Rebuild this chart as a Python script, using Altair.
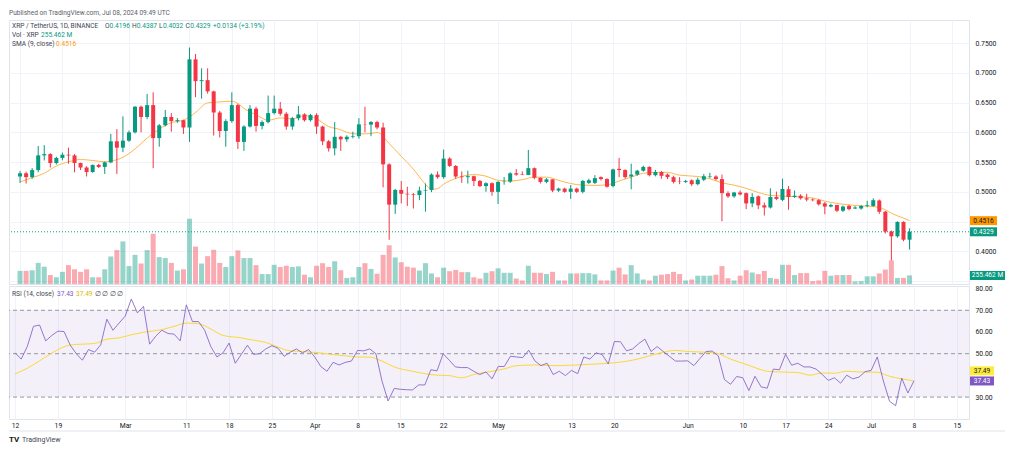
import altair as alt
import pandas as pd

# ---------------- data (XRP/USDT 1D, Feb 12 - Jul 8 2024) ----------------
start_date = "2024-02-12"

opens = [
    0.5258, 0.5312, 0.5247, 0.5366, 0.5613, 0.5634, 0.5484, 0.5570, 0.5624, 0.5612,
    0.5484, 0.5409, 0.5333, 0.5452, 0.5419, 0.5495, 0.5849, 0.5742, 0.5860, 0.6000,
    0.6430, 0.6258, 0.6457, 0.5903, 0.6118, 0.6258, 0.6188, 0.6204, 0.6081, 0.7226,
    0.6860, 0.6876, 0.6688, 0.6333, 0.6022, 0.6188, 0.6457, 0.5839, 0.6097, 0.6398,
    0.6108, 0.6172, 0.6323, 0.6398, 0.6312, 0.6097, 0.6237, 0.6301, 0.6204, 0.6290,
    0.6097, 0.5849, 0.5731, 0.5925, 0.5882, 0.5925, 0.5935, 0.6134, 0.6130, 0.6172,
    0.6081, 0.5462, 0.4785, 0.5032, 0.4968, 0.4957, 0.4946, 0.5022, 0.5032, 0.5290,
    0.5247, 0.5559, 0.5435, 0.5258, 0.5247, 0.5263, 0.5183, 0.5097, 0.5145, 0.5000,
    0.5167, 0.5172, 0.5312, 0.5290, 0.5284, 0.5398, 0.5237, 0.5167, 0.5210, 0.5022,
    0.5054, 0.5000, 0.5054, 0.5000, 0.5151, 0.5151, 0.5247, 0.5215, 0.5097, 0.5387,
    0.5366, 0.5258, 0.5290, 0.5355, 0.5419, 0.5280, 0.5333, 0.5290, 0.5247, 0.5183,
    0.5167, 0.5194, 0.5129, 0.5204, 0.5250, 0.5258, 0.5215, 0.4978, 0.4925, 0.4989,
    0.4978, 0.4806, 0.4925, 0.4774, 0.4737, 0.4914, 0.4865, 0.5043, 0.4914, 0.4935,
    0.4892, 0.4871, 0.4860, 0.4806, 0.4753, 0.4780, 0.4683, 0.4763, 0.4720, 0.4720,
    0.4763, 0.4763, 0.4855, 0.4667, 0.4333, 0.4253, 0.4495, 0.4196,
]
highs = [
    0.5350, 0.5340, 0.5400, 0.5770, 0.5785, 0.5650, 0.5590, 0.5660, 0.5742, 0.5634,
    0.5490, 0.5430, 0.5460, 0.5470, 0.5510, 0.5973, 0.6054, 0.6269, 0.6030, 0.6441,
    0.6450, 0.6645, 0.6672, 0.6140, 0.6376, 0.6323, 0.6240, 0.6210, 0.7425, 0.7317,
    0.7075, 0.7075, 0.6700, 0.6360, 0.6220, 0.6672, 0.6480, 0.6120, 0.6457, 0.6430,
    0.6200, 0.6618, 0.6618, 0.6511, 0.6340, 0.6260, 0.6441, 0.6320, 0.6310, 0.6320,
    0.6110, 0.5870, 0.6172, 0.5940, 0.5950, 0.6011, 0.6237, 0.6430, 0.6190, 0.6195,
    0.6161, 0.5480, 0.5050, 0.5183, 0.5086, 0.4980, 0.5086, 0.5140, 0.5310, 0.5344,
    0.5710, 0.5581, 0.5450, 0.5344, 0.5355, 0.5270, 0.5200, 0.5160, 0.5160, 0.5180,
    0.5247, 0.5330, 0.5382, 0.5344, 0.5704, 0.5410, 0.5240, 0.5230, 0.5210, 0.5070,
    0.5070, 0.5113, 0.5070, 0.5200, 0.5220, 0.5280, 0.5260, 0.5230, 0.5390, 0.5570,
    0.5380, 0.5473, 0.5370, 0.5440, 0.5430, 0.5370, 0.5350, 0.5310, 0.5270, 0.5247,
    0.5200, 0.5210, 0.5240, 0.5301, 0.5320, 0.5280, 0.5290, 0.5010, 0.5000, 0.5022,
    0.4990, 0.4978, 0.4940, 0.4820, 0.5059, 0.5005, 0.5220, 0.5097, 0.5022, 0.4960,
    0.4968, 0.4890, 0.4880, 0.4830, 0.4800, 0.4780, 0.4770, 0.4785, 0.4760, 0.4780,
    0.4850, 0.4892, 0.4870, 0.4680, 0.4350, 0.4505, 0.4505, 0.4387,
]
lows = [
    0.5150, 0.5140, 0.5220, 0.5330, 0.5527, 0.5409, 0.5460, 0.5530, 0.5473, 0.5328,
    0.5366, 0.5258, 0.5320, 0.5400, 0.5301, 0.5480, 0.5301, 0.5667, 0.5840, 0.5980,
    0.6000, 0.6220, 0.5398, 0.5758, 0.6100, 0.6011, 0.6160, 0.5973, 0.5839, 0.6591,
    0.6565, 0.6650, 0.5946, 0.5914, 0.5758, 0.6160, 0.5720, 0.5688, 0.6080, 0.6011,
    0.6050, 0.6150, 0.6300, 0.6280, 0.6043, 0.6043, 0.6200, 0.6180, 0.6180, 0.5973,
    0.5785, 0.5677, 0.5613, 0.5688, 0.5840, 0.5900, 0.5892, 0.6000, 0.5935, 0.6050,
    0.5075, 0.4194, 0.4629, 0.4806, 0.4763, 0.4720, 0.4860, 0.4667, 0.4995, 0.5220,
    0.5220, 0.5420, 0.5220, 0.5151, 0.5140, 0.5097, 0.5080, 0.5000, 0.4935, 0.4796,
    0.5120, 0.5150, 0.5270, 0.5280, 0.5280, 0.5210, 0.5140, 0.5145, 0.4995, 0.5000,
    0.4985, 0.4882, 0.4980, 0.4975, 0.5130, 0.5130, 0.5190, 0.5070, 0.5075, 0.5247,
    0.5220, 0.5043, 0.5270, 0.5340, 0.5260, 0.5260, 0.5220, 0.5215, 0.5140, 0.5129,
    0.5150, 0.5097, 0.5110, 0.5180, 0.5230, 0.5190, 0.4505, 0.4898, 0.4900, 0.4940,
    0.4710, 0.4742, 0.4710, 0.4602, 0.4720, 0.4860, 0.4844, 0.4699, 0.4900, 0.4870,
    0.4840, 0.4840, 0.4770, 0.4624, 0.4740, 0.4660, 0.4660, 0.4690, 0.4710, 0.4700,
    0.4740, 0.4750, 0.4630, 0.4300, 0.3849, 0.4230, 0.4170, 0.4032,
]
closes = [
    0.5312, 0.5247, 0.5366, 0.5613, 0.5634, 0.5484, 0.5570, 0.5624, 0.5612, 0.5484,
    0.5409, 0.5333, 0.5452, 0.5419, 0.5495, 0.5849, 0.5742, 0.5860, 0.6000, 0.6430,
    0.6258, 0.6457, 0.5903, 0.6118, 0.6258, 0.6188, 0.6204, 0.6081, 0.7226, 0.6860,
    0.6876, 0.6688, 0.6333, 0.6022, 0.6188, 0.6457, 0.5839, 0.6097, 0.6398, 0.6108,
    0.6172, 0.6323, 0.6398, 0.6312, 0.6097, 0.6237, 0.6301, 0.6204, 0.6290, 0.6097,
    0.5849, 0.5731, 0.5925, 0.5882, 0.5925, 0.5935, 0.6134, 0.6130, 0.6172, 0.6081,
    0.5462, 0.4785, 0.5032, 0.4968, 0.4957, 0.4946, 0.5022, 0.5032, 0.5290, 0.5247,
    0.5559, 0.5435, 0.5258, 0.5247, 0.5263, 0.5183, 0.5097, 0.5145, 0.5000, 0.5167,
    0.5172, 0.5312, 0.5290, 0.5284, 0.5398, 0.5237, 0.5167, 0.5210, 0.5022, 0.5054,
    0.5000, 0.5054, 0.5000, 0.5183, 0.5194, 0.5231, 0.5215, 0.5086, 0.5376, 0.5366,
    0.5247, 0.5290, 0.5355, 0.5419, 0.5280, 0.5333, 0.5269, 0.5247, 0.5167, 0.5177,
    0.5183, 0.5129, 0.5204, 0.5263, 0.5258, 0.5215, 0.4978, 0.4925, 0.4989, 0.4957,
    0.4806, 0.4914, 0.4774, 0.4737, 0.4914, 0.4882, 0.5048, 0.4914, 0.4935, 0.4892,
    0.4871, 0.4860, 0.4790, 0.4753, 0.4780, 0.4683, 0.4753, 0.4710, 0.4737, 0.4763,
    0.4774, 0.4860, 0.4667, 0.4333, 0.4253, 0.4495, 0.4196, 0.4329,
]
volumes_m = [
    390, 390, 408, 627, 513, 266, 200, 361, 560, 437,
    361, 437, 200, 200, 437, 817, 1007, 1264, 532, 865,
    608, 1007, 1492, 798, 770, 627, 399, 437, 1938, 1112,
    608, 827, 1017, 627, 504, 827, 998, 770, 770, 560,
    295, 295, 570, 504, 542, 504, 523, 276, 200, 542,
    618, 504, 675, 409, 180, 200, 504, 618, 447, 304,
    865, 1150, 789, 646, 513, 485, 399, 618, 314, 200,
    485, 380, 418, 352, 352, 200, 162, 333, 380, 466,
    333, 333, 162, 105, 542, 333, 333, 295, 361, 105,
    105, 314, 314, 323, 323, 285, 105, 105, 399, 485,
    285, 560, 314, 133, 105, 247, 276, 295, 361, 295,
    105, 133, 247, 247, 247, 276, 532, 171, 105, 247,
    409, 342, 295, 390, 180, 152, 570, 570, 266, 323,
    323, 86, 105, 390, 247, 266, 266, 266, 76, 86,
    228, 228, 314, 428, 703, 180, 180, 255.462,
]
rsi = [
    50.4, 47.5, 53.4, 62.6, 63.2, 55.9, 58.4, 60.4, 60.2, 54.0,
    50.0, 47.0, 51.9, 50.7, 54.1, 65.9, 60.8, 64.1, 67.3, 75.2,
    68.8, 71.8, 54.4, 58.1, 60.8, 59.3, 59.0, 55.9, 72.5, 64.8,
    64.8, 60.8, 53.3, 48.5, 50.4, 54.9, 45.6, 49.7, 53.9, 49.7,
    50.0, 52.2, 53.7, 52.5, 48.8, 50.7, 52.2, 50.4, 51.9, 48.5,
    44.1, 41.9, 46.0, 44.8, 46.0, 46.6, 51.5, 51.3, 52.2, 50.0,
    37.4, 28.2, 34.0, 33.6, 33.4, 33.3, 35.6, 35.6, 42.6, 42.1,
    50.0, 47.0, 43.9, 43.6, 43.6, 41.9, 40.4, 41.6, 38.4, 44.1,
    44.1, 48.8, 48.5, 48.2, 51.6, 46.7, 44.5, 45.6, 40.4, 41.9,
    39.9, 42.3, 40.8, 48.5, 47.5, 50.4, 49.6, 45.3, 55.6, 55.5,
    51.3, 52.2, 54.7, 56.7, 51.0, 53.3, 51.0, 48.8, 46.6, 46.6,
    46.7, 44.5, 47.8, 51.0, 51.2, 49.0, 38.1, 35.9, 39.5, 38.9,
    33.0, 39.6, 34.7, 34.1, 42.9, 42.6, 49.7, 44.7, 45.6, 43.9,
    43.9, 42.9, 40.4, 37.7, 38.9, 36.4, 40.1, 38.4, 39.2, 41.7,
    42.3, 48.5, 37.4, 28.1, 26.0, 38.7, 31.9, 37.43,
]
sma_idx = [0, 2, 4, 6, 8, 10, 12, 14, 15, 17, 19, 21, 23, 25, 27, 29, 31, 33, 35, 36,
           37, 39, 41, 43, 45, 47, 49, 51, 53, 54, 56, 58, 59, 61, 63, 65, 67, 68, 69, 70,
           72, 75, 77, 79, 81, 83, 85, 87, 89, 91, 93, 95, 97, 99, 101, 103, 105, 107, 109, 112,
           114, 116, 118, 120, 122, 124, 127, 129, 131, 133, 135, 137, 139, 141, 143, 144, 146, 147]
sma_val = [0.5167, 0.5237, 0.5312, 0.5435, 0.5505, 0.5543, 0.5527, 0.5505, 0.5516, 0.5581,
           0.5720, 0.5903, 0.6054, 0.6161, 0.6204, 0.6333, 0.6495, 0.6511, 0.6522, 0.6484,
           0.6403, 0.6296, 0.6204, 0.6242, 0.6226, 0.6280, 0.6226, 0.6097, 0.6043, 0.6000,
           0.5973, 0.5978, 0.6000, 0.5812, 0.5597, 0.5382, 0.5129, 0.5043, 0.5054, 0.5129,
           0.5226, 0.5290, 0.5263, 0.5194, 0.5183, 0.5204, 0.5247, 0.5247, 0.5194, 0.5140,
           0.5113, 0.5108, 0.5118, 0.5183, 0.5247, 0.5312, 0.5328, 0.5328, 0.5280, 0.5258,
           0.5220, 0.5151, 0.5113, 0.5059, 0.4989, 0.4941, 0.4925, 0.4914, 0.4898, 0.4844,
           0.4806, 0.4780, 0.4763, 0.4753, 0.4699, 0.4640, 0.4559, 0.4516]
rsima_idx = [0, 2, 4, 6, 9, 11, 13, 15, 17, 19, 21, 24, 26, 28, 30, 32, 34, 37, 39, 41,
             43, 45, 47, 50, 52, 54, 56, 58, 60, 62, 65, 67, 69, 71, 73, 75, 78, 80, 82, 85,
             88, 91, 94, 97, 101, 103, 106, 108, 110, 113, 115, 117, 119, 121, 123, 125, 128, 130, 132, 134,
             136, 138, 141, 143, 145, 147]
rsima_val = [40.7, 43.3, 46.7, 50.3, 54.0, 54.4, 54.7, 56.7, 57.3, 58.7, 59.9, 61.1, 62.6, 64.1, 63.8,
             61.4, 58.4, 57.3, 56.2, 55.2, 53.0, 51.3, 51.0, 50.3, 49.6, 49.0, 48.5, 48.4, 46.6, 43.9,
             41.9, 40.8, 40.1, 39.9, 38.9, 40.4, 41.9, 43.0, 44.5, 44.8, 44.5, 44.7, 45.1, 45.6, 47.0,
             48.4, 50.7, 51.5, 51.0, 50.7, 50.0, 47.5, 45.6, 43.6, 41.9, 41.6, 41.3, 40.1, 41.1, 41.0,
             41.9, 41.6, 41.4, 39.6, 38.4, 37.49]
tick_idx = [0, 7, 18, 28, 35, 42, 49, 56, 63, 70, 79, 91, 98, 110, 119, 126, 133, 140, 147, 154]
tick_labels = ["12", "19", "Mar", "11", "18", "25", "Apr", "8", "15", "22", "May", "13", "20",
               "Jun", "10", "17", "24", "Jul", "8", "15"]
price_ticks = [0.35, 0.40, 0.45, 0.50, 0.55, 0.60, 0.65, 0.70, 0.75]
rsi_ticks = [30, 40, 50, 60, 70, 80]
rsi_levels = [30, 50, 70]

# ---------------- table ----------------
n = len(closes)
df = pd.DataFrame({
    "date": pd.date_range(start_date, periods=n, freq="D").strftime("%Y-%m-%d"),
    "i": list(range(n)),
    "open": opens, "high": highs, "low": lows, "close": closes,
    "vol": volumes_m, "rsi": rsi,
})
df["dir"] = ["up" if c >= o else "down" for o, c in zip(opens, closes)]
sma_df = pd.DataFrame({"i": sma_idx, "sma": sma_val})
rsima_df = pd.DataFrame({"i": rsima_idx, "ma": rsima_val})

# ---------------- style ----------------
W, HP, HR = 960, 264, 133
XDOM = [-1, 156]
GRID = "#f0f3fa"
UP, DOWN = "#089981", "#f23645"
TXT = "#131722"
LEG = "#434651"
FS = 6.6
ONE = alt.Data(values=[{}])

tick_expr = ("[" + ",".join("'%s'" % t for t in tick_labels) + "][indexof(["
             + ",".join(str(v) for v in tick_idx) + "], datum.value)]")

xs = alt.Scale(domain=XDOM, nice=False, zero=False)
x_top = alt.X("i:Q", scale=xs, axis=alt.Axis(values=tick_idx, labels=False, ticks=False, domain=False,
                                             grid=True, gridColor=GRID, title=None))
x_bot = alt.X("i:Q", scale=xs, axis=alt.Axis(values=tick_idx, labelExpr=tick_expr, ticks=False, domain=False,
                                             grid=True, gridColor=GRID, title=None, labelPadding=3,
                                             labelFontSize=6.8, labelColor=TXT, labelOverlap=False,
                                             labelFlush=False))

ys = alt.Scale(domain=[0.3452, 0.7887], nice=False, zero=False)
y_axis = alt.Axis(orient="right", values=price_ticks,
                  labelExpr="(abs(datum.value-0.45)<0.001 || datum.value<0.36) ? '' : format(datum.value, '.4f')",
                  grid=True, gridColor=GRID, ticks=False, domain=False, title=None, labelPadding=6,
                  labelFontSize=6.8, labelColor=TXT)
vs = alt.Scale(domain=[0, 7840], nice=False, zero=True)
rs = alt.Scale(domain=[19.9, 81.2], nice=False, zero=False)
r_axis = alt.Axis(orient="right", values=rsi_ticks,
                  labelExpr="datum.value == 40 ? '' : format(datum.value, '.2f')",
                  grid=False, ticks=False, domain=False, title=None, labelPadding=6,
                  labelFontSize=6.8, labelColor=TXT)

color = alt.Color("dir:N", scale=alt.Scale(domain=["up", "down"], range=[UP, DOWN]), legend=None)


def label(txt, x, y, col, size=FS, weight="normal"):
    return alt.Chart(ONE).mark_text(text=txt, align="left", baseline="middle", fontSize=size,
                                    color=col, fontWeight=weight).encode(x=alt.value(x), y=alt.value(y))


def tag(value, txt, fill, tcol, scale, axis, width=27, yoff=0):
    cx = W + 1 + width / 2
    box = alt.Chart(ONE).mark_tick(orient="horizontal", size=width, thickness=9, color=fill, opacity=1,
                                   yOffset=yoff).encode(
        x=alt.value(cx), y=alt.YDatum(value, scale=scale, axis=axis))
    t = alt.Chart(ONE).mark_text(text=txt, color=tcol, fontSize=FS, align="center", baseline="middle",
                                 yOffset=yoff).encode(
        x=alt.value(cx), y=alt.YDatum(value, scale=scale, axis=axis))
    return alt.layer(box, t)


base = alt.Chart(df)

# ---------------- price pane ----------------
vol = base.mark_bar(size=5, opacity=0.42).encode(
    x=x_top, y=alt.Y("vol:Q", scale=vs, axis=None), color=color)
vol_layer = alt.layer(vol, tag(255.462, "255.462 M", UP, "white", vs, None, width=35))

cur = alt.Chart(ONE).mark_rule(color=UP, strokeDash=[1, 2], strokeWidth=1).encode(
    y=alt.YDatum(0.4329, scale=ys, axis=y_axis))
sma_line = alt.Chart(sma_df).mark_line(color="#ffb74d", strokeWidth=1, interpolate="monotone").encode(
    x=x_top, y=alt.Y("sma:Q", scale=ys, axis=y_axis))
wicks = base.mark_rule(strokeWidth=1).encode(
    x=x_top, y=alt.Y("low:Q", scale=ys, axis=y_axis), y2="high:Q", color=color)
bodies = base.mark_bar(size=4).encode(
    x=x_top, y=alt.Y("open:Q", scale=ys, axis=y_axis), y2="close:Q", color=color)

legend_price = [
    label("Published on TradingView.com, Jul 08, 2024 09:49 UTC", 0, -7, "#5d606b"),
    label("XRP / TetherUS, 1D, BINANCE", 3, 6, LEG),
    label("O", 96, 6, LEG), label("0.4196", 100.6, 6, UP),
    label("H", 123, 6, LEG), label("0.4387", 127.8, 6, UP),
    label("L", 150, 6, LEG), label("0.4032", 154, 6, UP),
    label("C", 176.5, 6, LEG), label("0.4329", 181.2, 6, UP),
    label("+0.0134 (+3.19%)", 204, 6, UP),
    label("Vol · XRP", 3, 15, LEG), label("255.462 M", 32, 15, UP),
    label("SMA (9, close)", 3, 24, LEG), label("0.4516", 47, 24, "#ff9800"),
]

price_inner = alt.layer(
    cur, sma_line, wicks, bodies, *legend_price,
    tag(0.4516, "0.4516", "#ff9800", TXT, ys, y_axis),
    tag(0.4329, "0.4329", UP, "white", ys, y_axis),
)
price = alt.layer(vol_layer, price_inner).resolve_scale(y="independent").properties(width=W, height=HP)

# ---------------- RSI pane ----------------
band = alt.Chart(ONE).mark_rect(color="#7e57c2", opacity=0.09).encode(
    x=alt.value(0), x2=alt.value(W), y=alt.YDatum(30, scale=rs, axis=r_axis), y2=alt.datum(70))
levels = alt.Chart(pd.DataFrame({"lv": rsi_levels})).mark_rule(
    color="#9598a1", strokeDash=[4, 3], strokeWidth=1).encode(y=alt.Y("lv:Q", scale=rs, axis=r_axis))
rsi_ma = alt.Chart(rsima_df).mark_line(color="#fdd835", strokeWidth=1, interpolate="monotone").encode(
    x=x_bot, y=alt.Y("ma:Q", scale=rs, axis=r_axis))
rsi_line = base.mark_line(color="#7e57c2", strokeWidth=1, opacity=0.8).encode(
    x=x_bot, y=alt.Y("rsi:Q", scale=rs, axis=r_axis))

legend_rsi = [
    label("RSI (14, close)", 3, 8, LEG),
    label("37.43", 48, 8, "#7e57c2"), label("37.49", 67, 8, "#e0b800"),
    label("∅", 86, 8, LEG), label("∅", 93, 8, LEG),
    label("∅", 100.5, 8, LEG), label("∅", 108, 8, LEG),
    label("TV", 0, HR + 21, TXT, size=8, weight="bold"),
    label("TradingView", 13, HR + 21, LEG, size=7),
]
frame = alt.Chart(ONE).mark_rule(color="#e0e3eb", strokeWidth=1).encode(
    x=alt.value(0), x2=alt.value(W + 36), y=alt.value(HR + 12))

rsi_chart = alt.layer(
    band, levels, rsi_ma, rsi_line, frame, *legend_rsi,
    tag(37.49, "37.49", "#ffeb3b", TXT, rs, r_axis, width=24, yoff=-10),
    tag(37.43, "37.43", "#7e57c2", "white", rs, r_axis, width=24),
).properties(width=W, height=HR)

chart = (
    alt.vconcat(price, rsi_chart, spacing=0)
    .properties(padding={"left": 0, "top": 1, "right": 2, "bottom": 1})
    .configure_view(stroke="#e0e3eb", strokeWidth=1)
    .configure_text(font="Roboto")
    .configure_axis(labelFont="Roboto")
)

chart.save("out.html", embed_options={"renderer": "svg", "actions": False})
